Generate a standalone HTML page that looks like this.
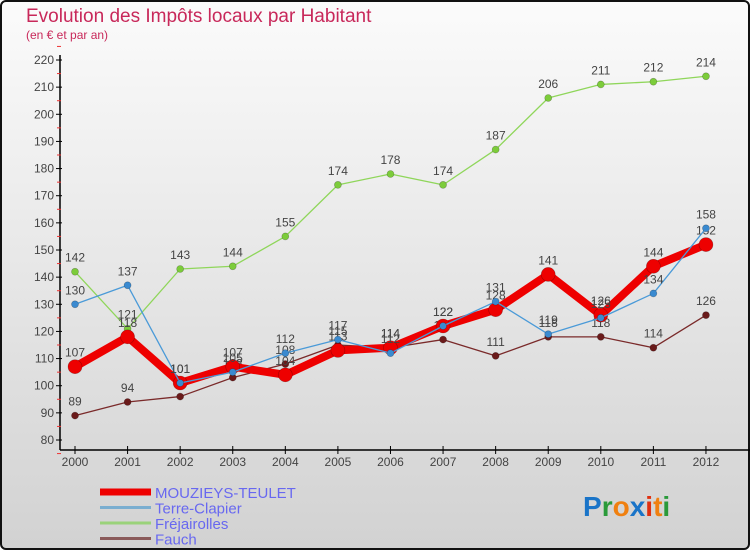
<!DOCTYPE html>
<html><head><meta charset="utf-8"><style>
body{margin:0;width:750px;height:550px;overflow:hidden;font-family:"Liberation Sans",sans-serif}
#wrap{position:absolute;left:0;top:0;width:746px;height:546px;border:2px solid #111;border-radius:6px;background:linear-gradient(#fbfbfb,#d2d2d2)}
</style></head><body>
<div id="wrap"></div>
<svg id="chart" width="750" height="550" style="position:absolute;left:0;top:0">
<text x="26" y="22" font-size="19" fill="#c8285a">Evolution des Impôts locaux par Habitant</text>
<text x="26" y="39" font-size="12" fill="#c8285a">(en € et par an)</text>
<g id="axes"></g><g id="series"></g><g id="legend"></g>
<text x="583" y="516" font-size="28" font-weight="bold"><tspan fill="#1a74c8">P</tspan><tspan fill="#2a9a3a">r</tspan><tspan fill="#f08010">o</tspan><tspan fill="#1a74c8">x</tspan><tspan fill="#e03010">i</tspan><tspan fill="#f08010">t</tspan><tspan fill="#2a9a3a">i</tspan></text>
</svg>
<script>
const years=[2000,2001,2002,2003,2004,2005,2006,2007,2008,2009,2010,2011,2012];
const yTicks=[80,90,100,110,120,130,140,150,160,170,180,190,200,210,220];
const mouzieys=[107,118,101,107,104,113,114,122,128,141,126,144,152];
const terreClapier=[130,137,101,105,112,117,112,122,131,119,125,134,158];
const frejairolles=[142,121,143,144,155,174,178,174,187,206,211,212,214];
const fauch=[89,94,96,103,108,115,114,117,111,118,118,114,126];
const NS='http://www.w3.org/2000/svg';
const xS=i=>75+i*52.58;
const yS=v=>440-(v-80)*(380/140);
function mk(t,a,p){const e=document.createElementNS(NS,t);for(const k in a)e.setAttribute(k,a[k]);p.appendChild(e);return e;}
const ax=document.getElementById('axes');
let yl=mk('line',{x1:60,y1:55,x2:60,y2:450,stroke:'#000','stroke-width':1.5},ax);


let xl=mk('line',{x1:60,y1:450,x2:750,y2:450,stroke:'#000','stroke-width':1.5},ax);


const step=380/14;
yTicks.forEach(v=>{const y=yS(v);
 mk('line',{x1:56,y1:y,x2:62,y2:y,stroke:'#000'},ax);
 mk('line',{x1:57,y1:y+step/2,x2:61,y2:y+step/2,stroke:'#e33'},ax);
 const t=mk('text',{x:54,y:y+4,'font-size':12,fill:'#444','text-anchor':'end'},ax);t.textContent=v;
 
 });
mk('line',{x1:57,y1:yS(220)-step/2,x2:61,y2:yS(220)-step/2,stroke:'#e33'},ax);
years.forEach((yr,i)=>{const x=xS(i);
 mk('line',{x1:x,y1:446,x2:x,y2:454,stroke:'#000'},ax);
 const t=mk('text',{x:x,y:466,'font-size':12,fill:'#444','text-anchor':'middle'},ax);t.textContent=yr;
 
 });
const sg=document.getElementById('series');
const defs=[
 {d:frejairolles,c:'#8fd65a',w:1.3,r:3.5,f:'#7ccc3a',n:'frejairolles'},
 {d:fauch,c:'#7a2a2a',w:1.3,r:3.5,f:'#6a1a1a',n:'fauch'},
 {d:mouzieys,c:'#ee0000',w:8,r:7,f:'#ee0000',n:'mouzieys-teulet'},
 {d:terreClapier,c:'#4a9ad8',w:1.3,r:3.5,f:'#3a8ad0',n:'terre-clapier'}];
defs.forEach(s=>{const g=mk('g',{},sg);
 
 
 const pts=s.d.map((v,i)=>xS(i)+','+yS(v)).join(' ');
 mk('polyline',{points:pts,fill:'none',stroke:s.c,'stroke-width':s.w,'stroke-linejoin':'round'},g);
 s.d.forEach((v,i)=>{const c=mk('circle',{cx:xS(i),cy:yS(v),r:s.r,fill:s.f,stroke:'rgba(0,0,0,0.3)','stroke-width':0.6},g);
  
  
  const t=mk('text',{x:xS(i),y:yS(v)-10,'font-size':12,fill:'#444','text-anchor':'middle'},g);t.textContent=v;
  
  });});
const lg=document.getElementById('legend');
const lnames=['MOUZIEYS-TEULET','Terre-Clapier','Fréjairolles','Fauch'];
const lcol=['#ee0000','#7aaed0','#9ad27a','#8a5a5a'];
const lw=[7,3,3,3];
lnames.forEach((n,i)=>{const y=492+i*15.5;const g=mk('g',{},lg);
 
 
 mk('line',{x1:100,y1:y,x2:151,y2:y,stroke:lcol[i],'stroke-width':lw[i]},g);
 const t=mk('text',{x:155,y:y+6,'font-size':15,fill:'#6868f0'},g);t.textContent=n;});
</script>
</body></html>
